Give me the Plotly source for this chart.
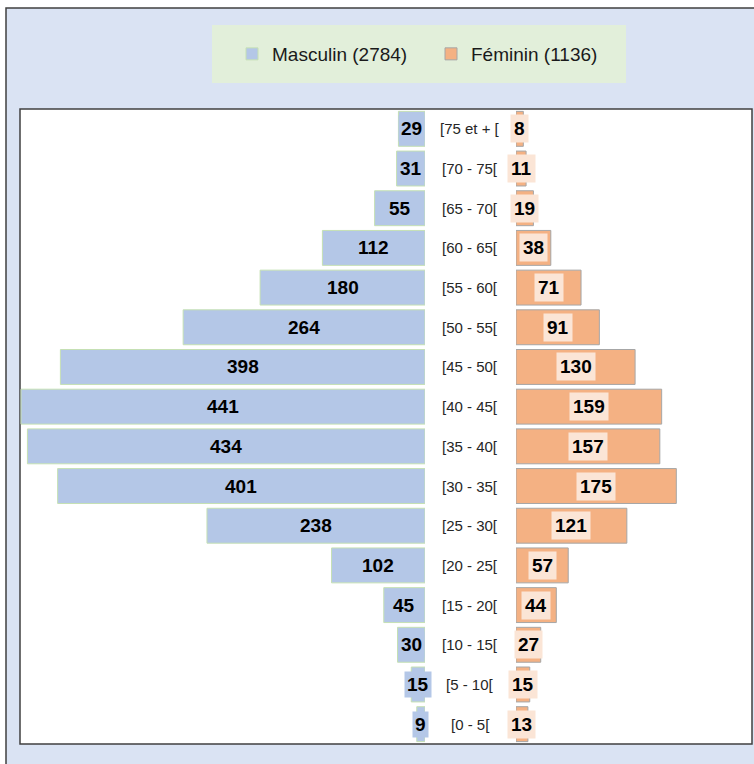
import plotly.graph_objects as go

# Age groups, top to bottom
age_groups = ["[75 et + [", "[70 - 75[", "[65 - 70[", "[60 - 65[", "[55 - 60[",
              "[50 - 55[", "[45 - 50[", "[40 - 45[", "[35 - 40[", "[30 - 35[",
              "[25 - 30[", "[20 - 25[", "[15 - 20[", "[10 - 15[", "[5 - 10[", "[0 - 5["]
masculin = [29, 31, 55, 112, 180, 264, 398, 441, 434, 401, 238, 102, 45, 30, 15, 9]
feminin = [8, 11, 19, 38, 71, 91, 130, 159, 157, 175, 121, 57, 44, 27, 15, 13]

W, H = 754, 764
ML, MR, MT, MB = 20, 2, 109, 20
PW, PH = W - ML - MR, H - MT - MB


def px_x(p):
    return (p - ML) / PW


def px_y(p):
    return (H - MB - p) / PH


BLUE = "#b4c7e7"
ORANGE = "#f4b183"
FONT = "Liberation Sans, Arial, sans-serif"

fig = go.Figure()

fig.add_trace(go.Bar(
    y=age_groups, x=masculin, orientation="h",
    name=f"Masculin ({sum(masculin)})",
    marker=dict(color=BLUE, line=dict(color="#c5e0b4", width=1)),
    xaxis="x", yaxis="y", hoverinfo="skip"
))
fig.add_trace(go.Bar(
    y=age_groups, x=feminin, orientation="h",
    name=f"Féminin ({sum(feminin)})",
    marker=dict(color=ORANGE, line=dict(color="#a6a6a6", width=1)),
    xaxis="x2", yaxis="y", hoverinfo="skip"
))

# value labels with boxes
for cat, v in zip(age_groups, masculin):
    fig.add_annotation(x=v / 2, y=cat, xref="x", yref="y", text=str(v),
                       showarrow=False, bgcolor=BLUE, borderpad=2,
                       font=dict(family=FONT, size=19, color="black", weight="bold"))
for cat, v in zip(age_groups, feminin):
    fig.add_annotation(x=v / 2, y=cat, xref="x2", yref="y", text=str(v),
                       showarrow=False, bgcolor="#fbe5d6", borderpad=3,
                       font=dict(family=FONT, size=19, color="black", weight="bold"))

# age group labels in the middle
for cat in age_groups:
    fig.add_annotation(x=px_x(470), y=cat, xref="paper", yref="y", text=cat,
                       showarrow=False,
                       font=dict(family=FONT, size=15, color="#262626"))

# backgrounds
fig.add_shape(type="rect", xref="paper", yref="paper", layer="below",
              x0=px_x(6), x1=px_x(W + 20), y0=px_y(H + 20), y1=px_y(8),
              fillcolor="#dae3f3", line=dict(color="#404040", width=1.5))
fig.add_shape(type="rect", xref="paper", yref="paper", layer="below",
              x0=px_x(212), x1=px_x(626), y0=px_y(83), y1=px_y(25),
              fillcolor="#e2efda", line=dict(width=0))
fig.add_shape(type="rect", xref="paper", yref="paper", layer="below",
              x0=0, x1=1, y0=0, y1=1,
              fillcolor="white", line=dict(color="#404040", width=1.5))

scale = 404 / max(masculin)
fig.update_layout(
    width=W, height=H,
    margin=dict(l=ML, r=MR, t=MT, b=MB, pad=0),
    paper_bgcolor="white", plot_bgcolor="rgba(0,0,0,0)",
    bargap=0.12,
    xaxis=dict(domain=[0, px_x(425)], range=[(425 - ML) / scale, 0],
               visible=False, fixedrange=True),
    xaxis2=dict(domain=[px_x(516), 1], range=[0, (W - MR - 516) / scale],
                visible=False, anchor="y", fixedrange=True),
    yaxis=dict(autorange="reversed", visible=False, fixedrange=True),
    showlegend=True,
    legend=dict(orientation="h", x=px_x(232), xanchor="left",
                y=px_y(54), yanchor="middle", bgcolor="rgba(0,0,0,0)",
                entrywidth=154, entrywidthmode="pixels",
                font=dict(family=FONT, size=19, color="#1a1a1a")),
)

fig.write_html("out.html", config={"displayModeBar": False},
               post_script="document.body.style.margin = '0';")
